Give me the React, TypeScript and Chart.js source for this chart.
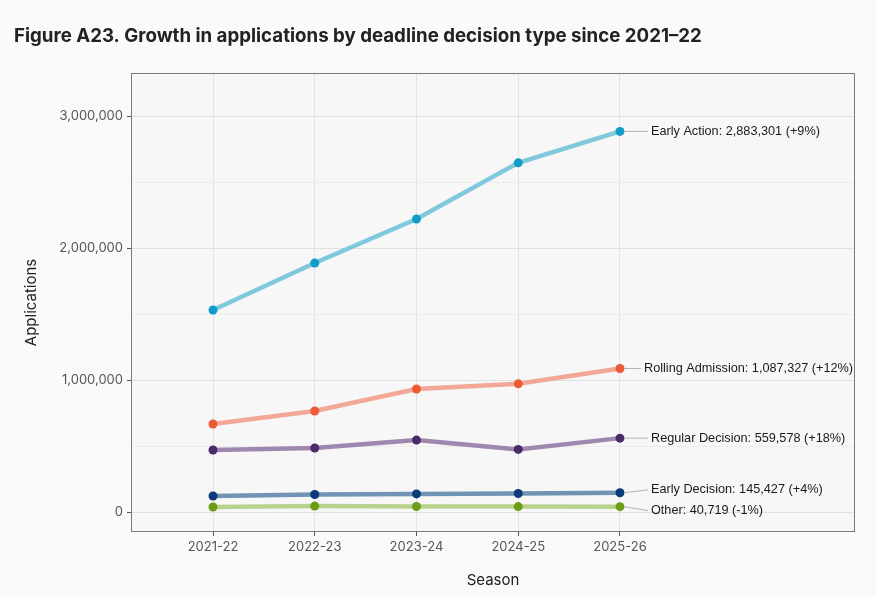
import { useEffect, useRef } from "react";
import { Chart, registerables } from "chart.js";

Chart.register(...registerables);

const seasons = ["2021-22", "2022-23", "2023-24", "2024-25", "2025-26"];
const seriesNames = ["Early Action", "Rolling Admission", "Regular Decision", "Early Decision", "Other"];
const earlyAction = [1530000, 1886000, 2220000, 2645000, 2883301];
const rollingAdmission = [667000, 765000, 932000, 971000, 1087327];
const regularDecision = [470000, 485000, 545000, 474000, 559578];
const earlyDecision = [121000, 133000, 137000, 140000, 145427];
const other = [38000, 45000, 42000, 41100, 40719];
const changeLabels = ["+9%", "+12%", "+18%", "+4%", "-1%"];
const yTickValues = [0, 500000, 1000000, 1500000, 2000000, 2500000, 3000000];
const yLabelValues = [0, 1000000, 2000000, 3000000];

const seriesValues = [earlyAction, rollingAdmission, regularDecision, earlyDecision, other];
const lineColors = ["#80c9dd", "#f2a797", "#9f88b0", "#7193b5", "#b6d28c"];
const pointColors = ["#129dc9", "#ec5b36", "#4b2a69", "#0b3b78", "#6d9c16"];
const labelOffsets = [
  { x: 31, y: 0 },
  { x: 24, y: 0 },
  { x: 31, y: 0 },
  { x: 31, y: -3 },
  { x: 31, y: 4 },
];

const fmt = (v: number) => v.toLocaleString("en-US");

export default function App() {
  const ref = useRef<HTMLCanvasElement | null>(null);

  useEffect(() => {
    document.body.style.margin = "0";
    document.body.style.background = "#fafafa";
    const canvas = ref.current;
    if (!canvas) return;

    const textPlugin = {
      id: "textPlugin",
      beforeDraw(chart: any) {
        const { ctx, width, height, chartArea } = chart;
        ctx.save();
        ctx.fillStyle = "#fafafa";
        ctx.fillRect(0, 0, width, height);
        ctx.fillStyle = "#f7f7f7";
        ctx.fillRect(chartArea.left, chartArea.top, chartArea.right - chartArea.left, chartArea.bottom - chartArea.top);
        ctx.restore();
      },
      afterDraw(chart: any) {
        const { ctx, chartArea } = chart;
        ctx.save();
        // panel border
        ctx.strokeStyle = "#7a7a7a";
        ctx.lineWidth = 1;
        ctx.strokeRect(chartArea.left + 0.5, chartArea.top + 0.5, chartArea.right - chartArea.left - 1, chartArea.bottom - chartArea.top - 1);
        // title
        ctx.fillStyle = "#222222";
        ctx.font = "700 18.7px Inter";
        ctx.textAlign = "left";
        ctx.textBaseline = "middle";
        ctx.fillText("Figure A23. Growth in applications by deadline decision type since 2021\u201322", 14, 36);
        // axis titles
        ctx.font = "400 15px Inter";
        ctx.textAlign = "center";
        ctx.fillText("Season", (chartArea.left + chartArea.right) / 2, 580);
        ctx.translate(31, (chartArea.top + chartArea.bottom) / 2);
        ctx.rotate(-Math.PI / 2);
        ctx.fillText("Applications", 0, 0);
        ctx.restore();
      },
      afterDatasetsDraw(chart: any) {
        const { ctx } = chart;
        ctx.save();
        chart.data.datasets.forEach((ds: any, i: number) => {
          const meta = chart.getDatasetMeta(i);
          const pt = meta.data[meta.data.length - 1];
          const off = labelOffsets[i];
          const lx = pt.x + off.x;
          const ly = pt.y + off.y;
          ctx.strokeStyle = "#b3b3b3";
          ctx.lineWidth = 1;
          ctx.beginPath();
          ctx.moveTo(pt.x + 4, pt.y);
          ctx.lineTo(lx - 3, ly);
          ctx.stroke();
          const vals = seriesValues[i];
          const text = `${seriesNames[i]}: ${fmt(vals[vals.length - 1])} (${changeLabels[i]})`;
          ctx.fillStyle = "#1a1a1a";
          ctx.font = "12.7px 'Liberation Sans', Arial, sans-serif";
          ctx.textAlign = "left";
          ctx.textBaseline = "middle";
          ctx.fillText(text, lx, ly);
        });
        ctx.restore();
      },
    };

    const chart = new Chart(canvas, {
      type: "line",
      data: {
        datasets: seriesNames.map((name, i) => ({
          label: name,
          data: seriesValues[i].map((v, j) => ({ x: j, y: v })),
          borderColor: lineColors[i],
          backgroundColor: pointColors[i],
          pointBackgroundColor: pointColors[i],
          pointBorderWidth: 0,
          pointRadius: 4.5,
          borderWidth: 4.5,
          tension: 0,
          fill: false,
        })),
      },
      options: {
        animation: false,
        responsive: false,
        devicePixelRatio: 1,
        layout: { padding: { top: 73, right: 21, left: 0, bottom: 0 } },
        plugins: {
          legend: { display: false },
          tooltip: { enabled: false },
          title: { display: false },
        },
        scales: {
          x: {
            type: "linear",
            min: -0.806,
            max: 6.31,
            afterBuildTicks: (scale: any) => {
              scale.ticks = seasons.map((_, i) => ({ value: i }));
            },
            afterFit: (scale: any) => {
              scale.height = 65;
            },
            ticks: {
              callback: (v: any) => seasons[v] ?? "",
              color: "#555555",
              font: { family: "Inter", size: 13 },
              padding: 3,
              maxRotation: 0,
              autoSkip: false,
            },
            grid: { color: "#e3e3e3", lineWidth: 1, tickLength: 4, tickColor: "#555555" },
            border: { display: false },
          },
          y: {
            type: "linear",
            min: -151500,
            max: 3325800,
            afterBuildTicks: (scale: any) => {
              scale.ticks = yTickValues.map((v) => ({ value: v }));
            },
            afterFit: (scale: any) => {
              scale.width = 131;
            },
            ticks: {
              callback: (v: any) => (yLabelValues.includes(v) ? fmt(v) : ""),
              color: "#555555",
              font: { family: "Inter", size: 13 },
              padding: 4,
              autoSkip: false,
            },
            grid: {
              color: (c: any) => (c.tick && yLabelValues.includes(c.tick.value) ? "#e1e1e1" : "#ececec"),
              lineWidth: 1,
              tickLength: 4,
              tickColor: (c: any) => (c.tick && yLabelValues.includes(c.tick.value) ? "#555555" : "rgba(0,0,0,0)"),
            },
            border: { display: false },
          },
        },
      },
      plugins: [textPlugin],
    } as any);

    return () => chart.destroy();
  }, []);

  return <canvas ref={ref} width={876} height={597} style={{ display: "block", width: 876, height: 597 }} />;
}
